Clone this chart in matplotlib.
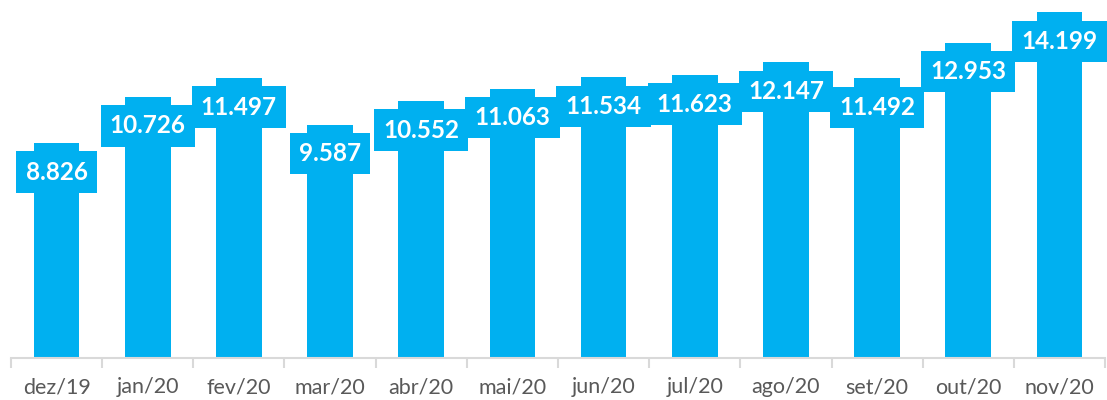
import matplotlib
matplotlib.use("Agg")
import matplotlib.pyplot as plt
import numpy as np

categories = ["dez/19", "jan/20", "fev/20", "mar/20", "abr/20", "mai/20",
              "jun/20", "jul/20", "ago/20", "set/20", "out/20", "nov/20"]
values = [8.826, 10.726, 11.497, 9.587, 10.552, 11.063,
          11.534, 11.623, 12.147, 11.492, 12.953, 14.199]
labels = ["8.826", "10.726", "11.497", "9.587", "10.552", "11.063",
          "11.534", "11.623", "12.147", "11.492", "12.953", "14.199"]

W, H = 1107, 400
fig = plt.figure(figsize=(W / 100, H / 100), dpi=100)
ax = fig.add_axes([11 / W, 1 - 358 / H, (1105 - 11) / W, 358 / H])

blue = "#00B0F0"
x = np.arange(len(categories))
ax.bar(x, values, width=0.5, color=blue, zorder=2)
ax.set_xlim(-0.5, len(categories) - 0.5)
ax.set_ylim(0, 14.70)

for xi, v, lab in zip(x, values, labels):
    ax.annotate(lab, (xi, v), xytext=(0, -21), textcoords="offset points",
                ha="center", va="center", color="white", fontsize=17.5,
                fontweight="bold", family=["Lato", "DejaVu Sans"], zorder=3,
                bbox=dict(boxstyle="square,pad=0.38", fc=blue, ec="none"))

for s in ["top", "right", "left"]:
    ax.spines[s].set_visible(False)
ax.spines["bottom"].set_color("#D9D9D9")
ax.spines["bottom"].set_linewidth(1.5)
ax.set_yticks([])
ax.set_xticks(x)
ax.set_xticklabels(categories, fontsize=15.5, color="#595959", family=["Lato", "DejaVu Sans"])
ax.tick_params(axis="x", which="major", length=0, pad=14)
ax.set_xticks(np.arange(-0.5, len(categories), 1), minor=True)
ax.tick_params(axis="x", which="minor", length=7, color="#D9D9D9", width=1.5)

fig.savefig("out.png", dpi=100)
